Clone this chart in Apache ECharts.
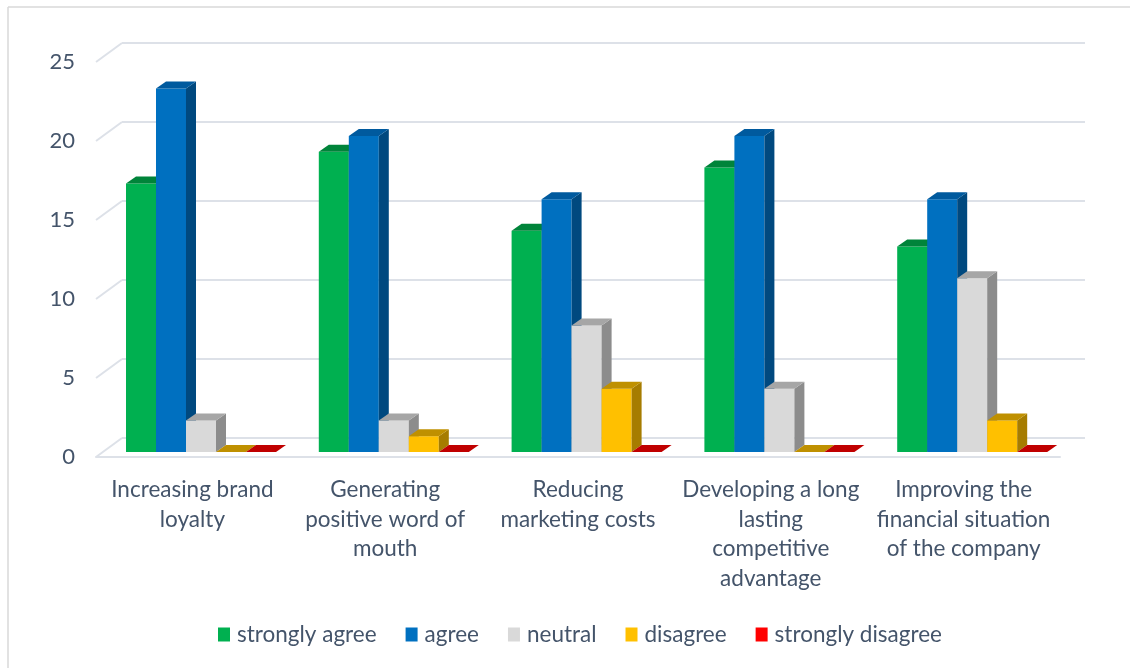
<!DOCTYPE html>
<html>
<head>
<meta charset="utf-8">
<script src="https://cdn.jsdelivr.net/npm/echarts@6/dist/echarts.min.js"></script>
<style>
  html, body { margin: 0; padding: 0; background: #ffffff; }
  #chart { width: 1130px; height: 668px; }
</style>
</head>
<body>
<div id="chart"></div>
<script>
// ---- data ----
const categories = [
  'Increasing brand loyalty',
  'Generating positive word of mouth',
  'Reducing marketing costs',
  'Developing a long lasting competitive advantage',
  'Improving the financial situation of the company'
];
const tickLabels = [
  'Increasing brand\nloyalty',
  'Generating\npositive word of\nmouth',
  'Reducing\nmarketing costs',
  'Developing a long\nlasting\ncompetitive\nadvantage',
  'Improving the\nfinancial situation\nof the company'
];
const seriesNames = ['strongly agree', 'agree', 'neutral', 'disagree', 'strongly disagree'];
const stronglyAgree = [17, 19, 14, 18, 13];
const agree = [23, 20, 16, 20, 16];
const neutral = [2, 2, 8, 4, 11];
const disagree = [0, 1, 4, 0, 2];
const stronglyDisagree = [0, 0, 0, 0, 0];
const yTicks = [0, 5, 10, 15, 20, 25];

// ---- styles ----
const seriesValues = [stronglyAgree, agree, neutral, disagree, stronglyDisagree];
const frontColors = ['#00B050', '#0070C0', '#D9D9D9', '#FFC000', '#FF0000'];
const topColors = ['#00843A', '#005A9E', '#A6A6A6', '#BF9000', '#C00000'];
const sideColors = ['#007A36', '#00497F', '#8C8C8C', '#A67C00', '#A00000'];
const textColor = '#44546A';
const fontFamily = 'Lato, "Open Sans", sans-serif';
const gridColor = '#DDE1E8';

const DX = 10, DY = 7;          // bar depth
const WX = 26, WY = 19;         // wall depth
const BAR_FRAC = 0.1556;        // bar width / band width
const SHIFT_FRAC = 0.0446;      // group offset / band width
const LIFT = 5;                 // bar base lifted above front floor

const chart = echarts.init(document.getElementById('chart'), null, { renderer: 'canvas' });

function barRenderer(si) {
  return function (params, api) {
    const cat = api.value(0);
    const v = api.value(1);
    const top = api.coord([cat, v]);
    const base = api.coord([cat, 0]);
    const band = api.size([1, 0])[0];
    const bw = band * BAR_FRAC;
    const x = top[0] + band * SHIFT_FRAC - 2.5 * bw + si * bw;
    const yt = top[1] - LIFT;
    const yb = base[1] - LIFT;
    const children = [];
    if (yb - yt > 0.5) {
      children.push({
        type: 'rect',
        shape: { x: x, y: yt, width: bw, height: yb - yt },
        style: { fill: frontColors[si] }
      });
    }
    children.push({
      type: 'polygon',
      shape: { points: [[x + bw, yt], [x + bw + DX, yt - DY], [x + bw + DX, yb - DY], [x + bw, yb]] },
      style: { fill: sideColors[si] }
    });
    children.push({
      type: 'polygon',
      shape: { points: [[x, yt], [x + bw, yt], [x + bw + DX, yt - DY], [x + DX, yt - DY]] },
      style: { fill: topColors[si] }
    });
    return { type: 'group', children: children };
  };
}

const barSeries = seriesNames.map(function (name, si) {
  return {
    name: name,
    type: 'custom',
    xAxisIndex: 0,
    yAxisIndex: 0,
    clip: false,
    itemStyle: { color: frontColors[si] },
    renderItem: barRenderer(si),
    data: seriesValues[si].map(function (v, i) { return [i, v]; }),
    z: 10
  };
});

const wallSeries = {
  type: 'custom',
  xAxisIndex: 0,
  yAxisIndex: 0,
  clip: false,
  silent: true,
  renderItem: function (params, api) {
    const p = api.coord([0, api.value(1)]);
    const band = api.size([1, 0])[0];
    const x = p[0] - band / 2;
    return {
      type: 'line',
      shape: { x1: x, y1: p[1], x2: x + WX, y2: p[1] - WY },
      style: { stroke: gridColor, lineWidth: 2 }
    };
  },
  data: yTicks.map(function (v) { return [0, v]; }),
  z: 1
};

const option = {
  backgroundColor: '#ffffff',
  animation: false,
  textStyle: { fontFamily: fontFamily, color: textColor },
  graphic: [
    { type: 'line', shape: { x1: 8, y1: 7, x2: 8, y2: 668 }, style: { stroke: '#D9D9D9', lineWidth: 1.5 } },
    { type: 'line', shape: { x1: 8, y1: 7, x2: 1130, y2: 7 }, style: { stroke: '#D9D9D9', lineWidth: 1.5 } }
  ],
  legend: {
    data: seriesNames,
    bottom: 17,
    left: 213,
    icon: 'rect',
    itemWidth: 12,
    itemHeight: 14,
    itemGap: 29,
    textStyle: { fontFamily: fontFamily, fontSize: 22.5, color: textColor, padding: [0, 0, 0, 2] }
  },
  grid: [
    { left: 96, right: 70, top: 62, height: 395 },
    { left: 122, right: 45, top: 43, height: 395 }
  ],
  xAxis: [
    {
      type: 'category',
      gridIndex: 0,
      data: categories,
      axisLine: { show: true, lineStyle: { color: gridColor, width: 2 } },
      axisTick: { show: false },
      axisLabel: {
        interval: 0,
        margin: 18,
        fontSize: 22.5,
        lineHeight: 29.5,
        color: textColor,
        fontFamily: fontFamily,
        formatter: function (val, idx) { return tickLabels[idx]; }
      }
    },
    {
      type: 'category',
      gridIndex: 1,
      data: categories,
      show: false
    }
  ],
  yAxis: [
    {
      type: 'value',
      gridIndex: 0,
      min: 0,
      max: 25,
      interval: 5,
      axisLine: { show: false },
      axisTick: { show: false },
      splitLine: { show: false },
      axisLabel: { margin: 21, fontSize: 22, color: textColor, fontFamily: fontFamily }
    },
    {
      type: 'value',
      gridIndex: 1,
      min: 0,
      max: 25,
      interval: 5,
      axisLine: { show: false },
      axisTick: { show: false },
      axisLabel: { show: false },
      splitLine: { show: true, lineStyle: { color: gridColor, width: 2 } }
    }
  ],
  series: [wallSeries].concat(barSeries)
};

chart.setOption(option);
</script>
</body>
</html>
